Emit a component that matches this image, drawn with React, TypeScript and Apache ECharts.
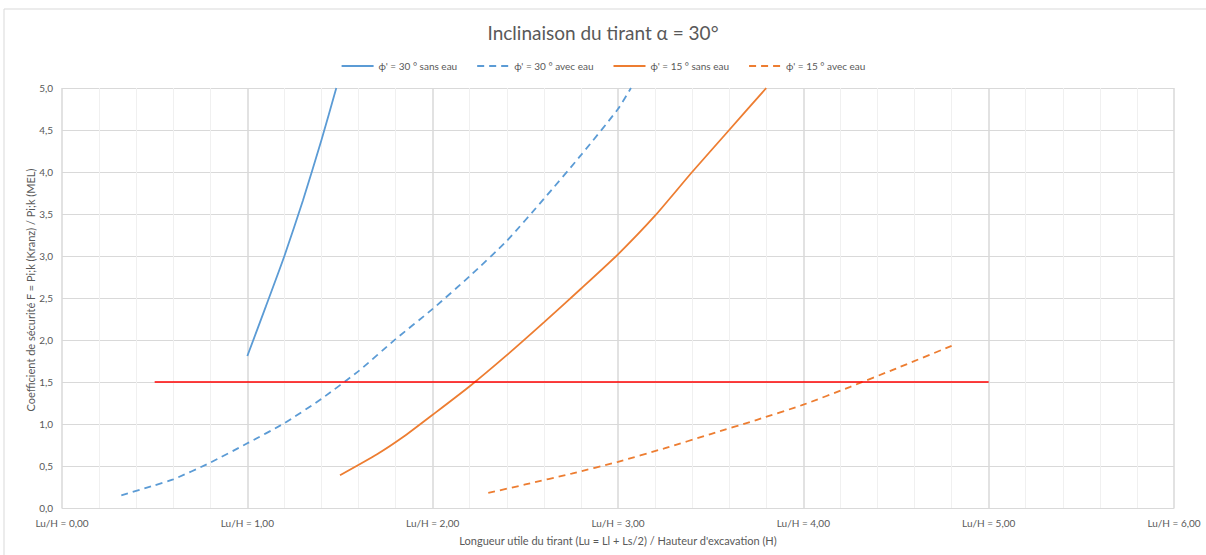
import React, { useEffect, useRef } from "react";
import * as echarts from "echarts";

const titleText = "Inclinaison du tirant α = 30°";
const xAxisTitle = "Longueur utile du tirant (Lu = Ll + Ls/2) / Hauteur d'excavation (H)";
const yAxisTitle = "Coefficient de sécurité F = Pi;k (Kranz) / Pi;k (MEL)";

const xTickLabels = ["Lu/H = 0,00", "Lu/H = 1,00", "Lu/H = 2,00", "Lu/H = 3,00", "Lu/H = 4,00", "Lu/H = 5,00", "Lu/H = 6,00"];
const yTickLabels = ["0,0", "0,5", "1,0", "1,5", "2,0", "2,5", "3,0", "3,5", "4,0", "4,5", "5,0"];

const seriesNames = ["ϕ' = 30 ° sans eau", "ϕ' = 30 ° avec eau", "ϕ' = 15 ° sans eau", "ϕ' = 15 ° avec eau"];

const phi30SansEau: [number, number][] = [
  [1.0, 1.81], [1.1, 2.4], [1.2, 3.0], [1.3, 3.66], [1.4, 4.38], [1.48, 5.0],
];
const phi30AvecEau: [number, number][] = [
  [0.32, 0.15], [0.5, 0.27], [0.6, 0.34], [0.8, 0.54], [1.0, 0.77], [1.2, 1.01],
  [1.4, 1.3], [1.6, 1.63], [1.8, 2.01], [2.0, 2.37], [2.2, 2.76], [2.4, 3.18],
  [2.6, 3.68], [2.8, 4.2], [3.0, 4.75], [3.07, 5.0],
];
const phi15SansEau: [number, number][] = [
  [1.5, 0.39], [1.7, 0.64], [1.85, 0.86], [2.0, 1.11], [2.2, 1.45], [2.4, 1.82],
  [2.6, 2.21], [2.8, 2.61], [3.0, 3.02], [3.2, 3.48], [3.4, 4.0], [3.6, 4.5], [3.8, 5.0],
];
const phi15AvecEau: [number, number][] = [
  [2.3, 0.18], [2.5, 0.28], [2.75, 0.41], [3.0, 0.55], [3.25, 0.71], [3.5, 0.88],
  [3.75, 1.05], [4.0, 1.23], [4.25, 1.44], [4.5, 1.66], [4.8, 1.93],
];
const safetyLimit: [number, number][] = [
  [0.5, 1.5], [5.0, 1.5],
];

const BLUE = "#5B9BD5";
const ORANGE = "#ED7D31";
const FONT = "Lato, 'Open Sans', sans-serif";
const TEXT = "#595959";

export default function App() {
  const ref = useRef<HTMLDivElement>(null);
  useEffect(() => {
    document.body.style.margin = "0";
    const chart = echarts.init(ref.current!, null, { renderer: "svg" });
    const mk = (name: string, data: [number, number][], color: string, dashed: boolean) => ({
      name,
      type: "line",
      data,
      showSymbol: false,
      symbol: "none",
      smooth: 0.2,
      lineStyle: { color, width: 1.8, type: dashed ? [7, 5] : "solid" },
      itemStyle: { color },
    });
    chart.setOption({
      animation: false,
      backgroundColor: "#ffffff",
      textStyle: { fontFamily: FONT },
      title: {
        text: titleText,
        left: "center",
        top: 18,
        textStyle: { fontFamily: FONT, fontSize: 19, fontWeight: "normal", color: TEXT },
      },
      legend: {
        data: seriesNames,
        top: 56,
        left: "center",
        itemWidth: 32,
        itemHeight: 10,
        itemGap: 19,
        itemStyle: { opacity: 0 },
        textStyle: { fontFamily: FONT, fontSize: 10, color: TEXT },
      },
      graphic: [
        {
          type: "rect",
          shape: { x: 4, y: 9, width: 1400, height: 800 },
          style: { fill: "none", stroke: "#D9D9D9", lineWidth: 1 },
          silent: true,
          z: -10,
        },
        {
          type: "text",
          x: 30,
          y: 290,
          rotation: Math.PI / 2,
          silent: true,
          style: {
            text: yAxisTitle,
            fill: TEXT,
            font: `11px ${FONT}`,
            textAlign: "center",
            textVerticalAlign: "middle",
          },
        },
      ],
      grid: { left: 62, right: 32, top: 88, bottom: 47 },
      xAxis: {
        type: "value",
        min: 0,
        max: 6,
        interval: 1,
        name: xAxisTitle,
        nameLocation: "middle",
        nameGap: 27,
        nameTextStyle: { fontFamily: FONT, fontSize: 11, color: TEXT },
        axisLine: { show: true, lineStyle: { color: "#D9D9D9", width: 1 } },
        axisTick: { show: false },
        axisLabel: {
          fontFamily: FONT,
          fontSize: 10,
          color: TEXT,
          margin: 10,
          formatter: (v: number) => xTickLabels[Math.round(v)] ?? "",
        },
        splitLine: { show: true, lineStyle: { color: "#D9D9D9", width: 1.5 } },
        minorTick: { show: false, splitNumber: 5 },
        minorSplitLine: { show: true, lineStyle: { color: "#F0F0F0", width: 1 } },
      },
      yAxis: {
        type: "value",
        min: 0,
        max: 5,
        interval: 0.5,
        axisLine: { show: false },
        axisTick: { show: false },
        axisLabel: {
          fontFamily: FONT,
          fontSize: 10,
          color: TEXT,
          margin: 9,
          formatter: (v: number) => yTickLabels[Math.round(v * 2)] ?? "",
        },
        splitLine: { show: true, lineStyle: { color: "#D9D9D9", width: 1 } },
      },
      series: [
        mk(seriesNames[0], phi30SansEau, BLUE, false),
        mk(seriesNames[1], phi30AvecEau, BLUE, true),
        mk(seriesNames[2], phi15SansEau, ORANGE, false),
        mk(seriesNames[3], phi15AvecEau, ORANGE, true),
        {
          name: "F = 1,5",
          type: "line",
          data: safetyLimit,
          showSymbol: false,
          symbol: "none",
          lineStyle: { color: "#FF0000", width: 1.5 },
          itemStyle: { color: "#FF0000" },
        },
      ],
    });
    return () => chart.dispose();
  }, []);
  return <div ref={ref} style={{ width: 1206, height: 555 }} />;
}
